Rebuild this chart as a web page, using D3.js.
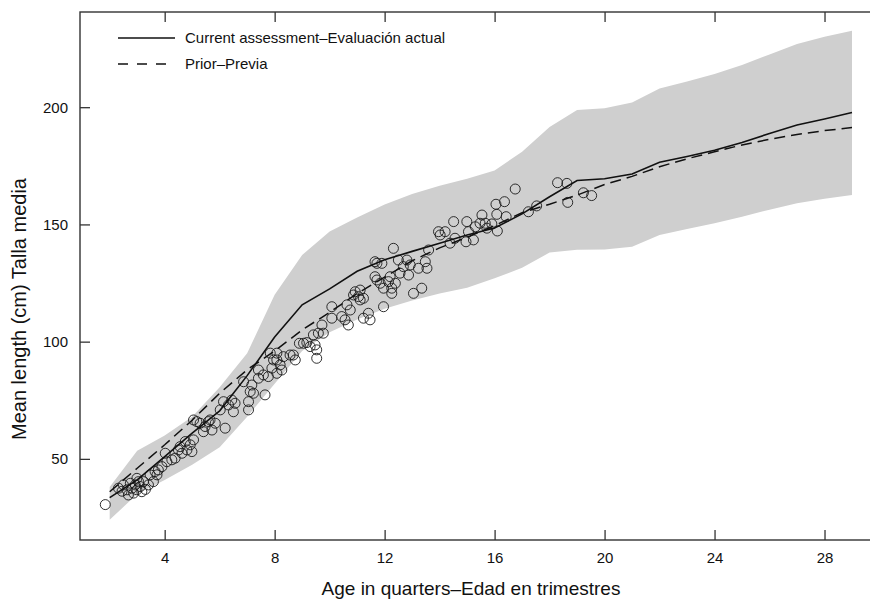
<!DOCTYPE html>
<html>
<head>
<meta charset="utf-8">
<script src="https://cdn.jsdelivr.net/npm/d3@7"></script>
<style>
  body { margin: 0; background: #fff; }
  svg { display: block; font-family: "Liberation Sans", Arial, sans-serif; }
  .tick line { stroke: #333; stroke-width: 1.3; }
  .tick text { fill: #111; font-size: 15px; }
  .axis path { display: none; }
</style>
</head>
<body>
<div id="chart"></div>
<script>
// age in quarters for the model curves
const ages = [2, 3, 4, 5, 6, 7, 8, 9, 10, 11, 12, 13, 14, 15, 16, 17, 18, 19, 20, 21, 22, 23, 24, 25, 26, 27, 28, 29]
const currentLen = [33.5, 41, 51, 61, 70.5, 85.5, 102, 115.7, 122.5, 130, 134.9, 138.5, 142, 145.5, 148.5, 154.5, 161.8, 168.7, 169.5, 171.5, 176.5, 179, 181.6, 184.9, 188.8, 192.4, 195, 197.7]
const priorLen = [36, 46, 56, 66.5, 78, 88, 96, 105, 112.5, 120.5, 127.5, 134.5, 140, 144.5, 149.5, 155, 158.6, 162.5, 167, 170.5, 174.6, 178, 181, 183.9, 186.3, 188.4, 190, 191.3]
const bandUpper = [38, 53.5, 60, 68, 80.5, 95, 120, 137, 147, 153, 158.5, 163, 166.5, 169.5, 173, 181, 191.5, 198.8, 199.5, 202, 208, 211, 214.2, 218, 222.5, 227, 230, 232.6]
const bandLower = [24, 35, 41, 47.5, 55, 68, 82, 96, 104, 109.5, 114, 117.5, 120.5, 123, 127, 131.5, 138, 139.2, 139.3, 140.5, 145.5, 148, 150.5, 153.3, 156.3, 159, 161, 162.6]

// observed age / length pairs
const obsAge = [1.84, 2.32, 2.50, 2.63, 2.75, 2.81, 2.93, 2.99, 3.11, 3.05, 2.87, 3.17, 3.23, 2.68, 2.99,
  3.59, 3.47, 3.41, 3.65, 4.02, 4.26, 4.38, 4.08, 4.56, 4.75, 4.81, 4.93, 4.99, 4.63, 5.05,
  4.50, 5.29, 5.47, 5.59, 5.41, 5.72, 5.65, 5.84, 5.17, 3.77, 3.90, 3.72, 5.05, 6.20, 6.02,
  6.14, 6.32, 6.44, 6.56, 6.50, 7.05, 7.05, 7.11, 6.87, 7.17, 7.41, 7.65, 7.23, 7.41, 7.59,
  7.84, 8.08, 7.96, 8.20, 8.26, 7.90, 7.77, 8.08, 8.68, 8.75, 9.05, 9.17, 9.29, 9.47, 9.53,
  9.53, 9.59, 9.72, 9.41, 9.77, 10.08, 10.08, 10.44, 10.56, 10.68, 10.63, 10.75, 10.87, 11.05, 11.11,
  11.23, 11.23, 11.47, 11.41, 11.72, 11.84, 11.96, 12.14, 12.26, 12.39, 11.72, 11.90, 12.50, 12.26, 8.32,
  8.56, 11.11, 11.65, 11.65, 12.32, 12.81, 12.93, 12.68, 12.56, 12.87, 13.05, 13.35, 13.23, 13.48, 13.54,
  13.60, 14.02, 14.20, 14.38, 14.56, 14.51, 14.99, 15.05, 15.23, 15.30, 15.54, 15.66, 15.72, 16.75, 16.05,
  16.36, 16.08, 16.42, 15.47, 15.90, 16.10, 14.96, 17.23, 17.53, 18.29, 18.63, 18.66, 19.23, 19.53, 8.08,
  11.96, 10.93, 12.20, 13.96, 8.90, 2.45, 3.30]
const obsLen = [30.5, 37.5, 38.9, 36.8, 39.6, 37.5, 38.9, 36.8, 38.2, 40.3, 35.4, 36.0, 40.3, 34.6, 41.7,
  40.3, 43.2, 38.9, 44.6, 52.4, 49.6, 50.3, 48.8, 55.2, 57.4, 53.8, 56.0, 53.1, 52.4, 58.1,
  53.8, 65.2, 63.8, 65.9, 61.6, 62.3, 66.6, 65.2, 65.9, 45.3, 46.7, 43.2, 66.6, 63.1, 70.9,
  74.4, 73.0, 75.1, 73.7, 70.1, 74.4, 70.9, 78.7, 82.9, 81.5, 84.4, 77.3, 78.0, 87.9, 85.8,
  95.1, 95.1, 92.2, 90.1, 87.9, 88.7, 85.1, 86.5, 94.3, 92.2, 99.3, 99.6, 97.9, 98.6, 96.5,
  92.9, 103.6, 107.1, 102.9, 103.6, 114.9, 110.0, 110.7, 109.3, 107.1, 115.7, 113.5, 119.9, 119.2, 117.8,
  118.5, 110.0, 109.3, 112.1, 126.3, 124.9, 122.8, 125.6, 122.8, 124.9, 133.4, 133.4, 134.8, 120.6, 93.6,
  94.3, 122.0, 134.1, 127.7, 139.8, 134.8, 132.7, 132.0, 129.2, 128.4, 120.6, 122.8, 131.3, 134.1, 131.3,
  139.1, 145.5, 146.9, 142.0, 144.1, 151.2, 151.2, 146.9, 143.4, 149.0, 154.0, 150.5, 148.4, 165.1, 158.6,
  159.7, 154.3, 153.3, 150.5, 150.2, 147.2, 142.6, 155.4, 157.9, 167.8, 167.5, 159.4, 163.5, 162.3, 92.2,
  114.9, 121.3, 127.7, 146.9, 99.3, 36.2, 37.0]

const xTicks = [4, 8, 12, 16, 20, 24, 28]
const yTicks = [50, 100, 150, 200]
const legendLabels = ["Current assessment\u2013Evaluación actual", "Prior\u2013Previa"]

const W = 870
const H = 599
const plot = { left: 80, right: 881.7, top: 12, bottom: 540 }
const dash = "11,6"

const x = d3.scaleLinear().domain([0.92, 30.08]).range([plot.left, plot.right])
const y = d3.scaleLinear().domain([15.4, 240.6]).range([plot.bottom, plot.top])

const svg = d3.select("#chart").append("svg")
  .attr("width", W)
  .attr("height", H)

const rows = ages.map((a, i) => ({ age: a, cur: currentLen[i], pri: priorLen[i], lo: bandLower[i], hi: bandUpper[i] }))
const obs = obsAge.map((a, i) => ({ age: a, len: obsLen[i] }))

// uncertainty band
svg.append("path")
  .datum(rows)
  .attr("fill", "#cfcfcf")
  .attr("d", d3.area().x(d => x(d.age)).y0(d => y(d.lo)).y1(d => y(d.hi)))

// observations
svg.append("g")
  .selectAll("circle")
  .data(obs)
  .join("circle")
  .attr("cx", d => x(d.age))
  .attr("cy", d => y(d.len))
  .attr("r", 5)
  .attr("fill", "none")
  .attr("stroke", "#1a1a1a")
  .attr("stroke-width", 0.9)

svg.append("path")
  .datum(rows)
  .attr("fill", "none")
  .attr("stroke", "#111")
  .attr("stroke-width", 1.5)
  .attr("d", d3.line().x(d => x(d.age)).y(d => y(d.pri)))
  .attr("stroke-dasharray", dash)

svg.append("path")
  .datum(rows)
  .attr("fill", "none")
  .attr("stroke", "#111")
  .attr("stroke-width", 1.6)
  .attr("d", d3.line().x(d => x(d.age)).y(d => y(d.cur)))

// axes, ticks point inward
svg.append("g")
  .attr("class", "axis")
  .attr("transform", "translate(0," + plot.bottom + ")")
  .call(d3.axisBottom(x).tickValues(xTicks).tickSize(-10).tickSizeOuter(0).tickPadding(12))

svg.append("g")
  .attr("class", "axis")
  .attr("transform", "translate(0," + plot.top + ")")
  .call(d3.axisTop(x).tickValues(xTicks).tickSize(-10).tickSizeOuter(0).tickFormat(""))

svg.append("g")
  .attr("class", "axis")
  .attr("transform", "translate(" + plot.left + ",0)")
  .call(d3.axisLeft(y).tickValues(yTicks).tickSize(-10).tickSizeOuter(0).tickPadding(12))

svg.append("g")
  .attr("class", "axis")
  .attr("transform", "translate(" + plot.right + ",0)")
  .call(d3.axisRight(y).tickValues(yTicks).tickSize(-10).tickSizeOuter(0).tickFormat(""))

svg.append("rect")
  .attr("x", plot.left)
  .attr("y", plot.top)
  .attr("width", plot.right - plot.left)
  .attr("height", plot.bottom - plot.top)
  .attr("fill", "none")
  .attr("stroke", "#333")
  .attr("stroke-width", 1.4)

// legend
const legend = svg.append("g").attr("transform", "translate(118,38)")
legendLabels.forEach((t, i) => {
  legend.append("line")
    .attr("x1", 0).attr("x2", 57)
    .attr("y1", i * 26).attr("y2", i * 26)
    .attr("stroke", "#111")
    .attr("stroke-width", 1.4)
    .attr("stroke-dasharray", i ? "10,9" : null)
  legend.append("text")
    .attr("x", 67)
    .attr("y", i * 26)
    .attr("dy", "0.35em")
    .attr("font-size", 15)
    .attr("fill", "#111")
    .text(t)
})

// axis titles
svg.append("text")
  .attr("x", 471)
  .attr("y", 595)
  .attr("text-anchor", "middle")
  .attr("font-size", 19)
  .attr("fill", "#111")
  .text("Age in quarters\u2013Edad en trimestres")

svg.append("text")
  .attr("transform", "translate(26,309) rotate(-90)")
  .attr("text-anchor", "middle")
  .attr("font-size", 20)
  .attr("fill", "#111")
  .text("Mean length (cm) Talla media")
</script>
</body>
</html>
